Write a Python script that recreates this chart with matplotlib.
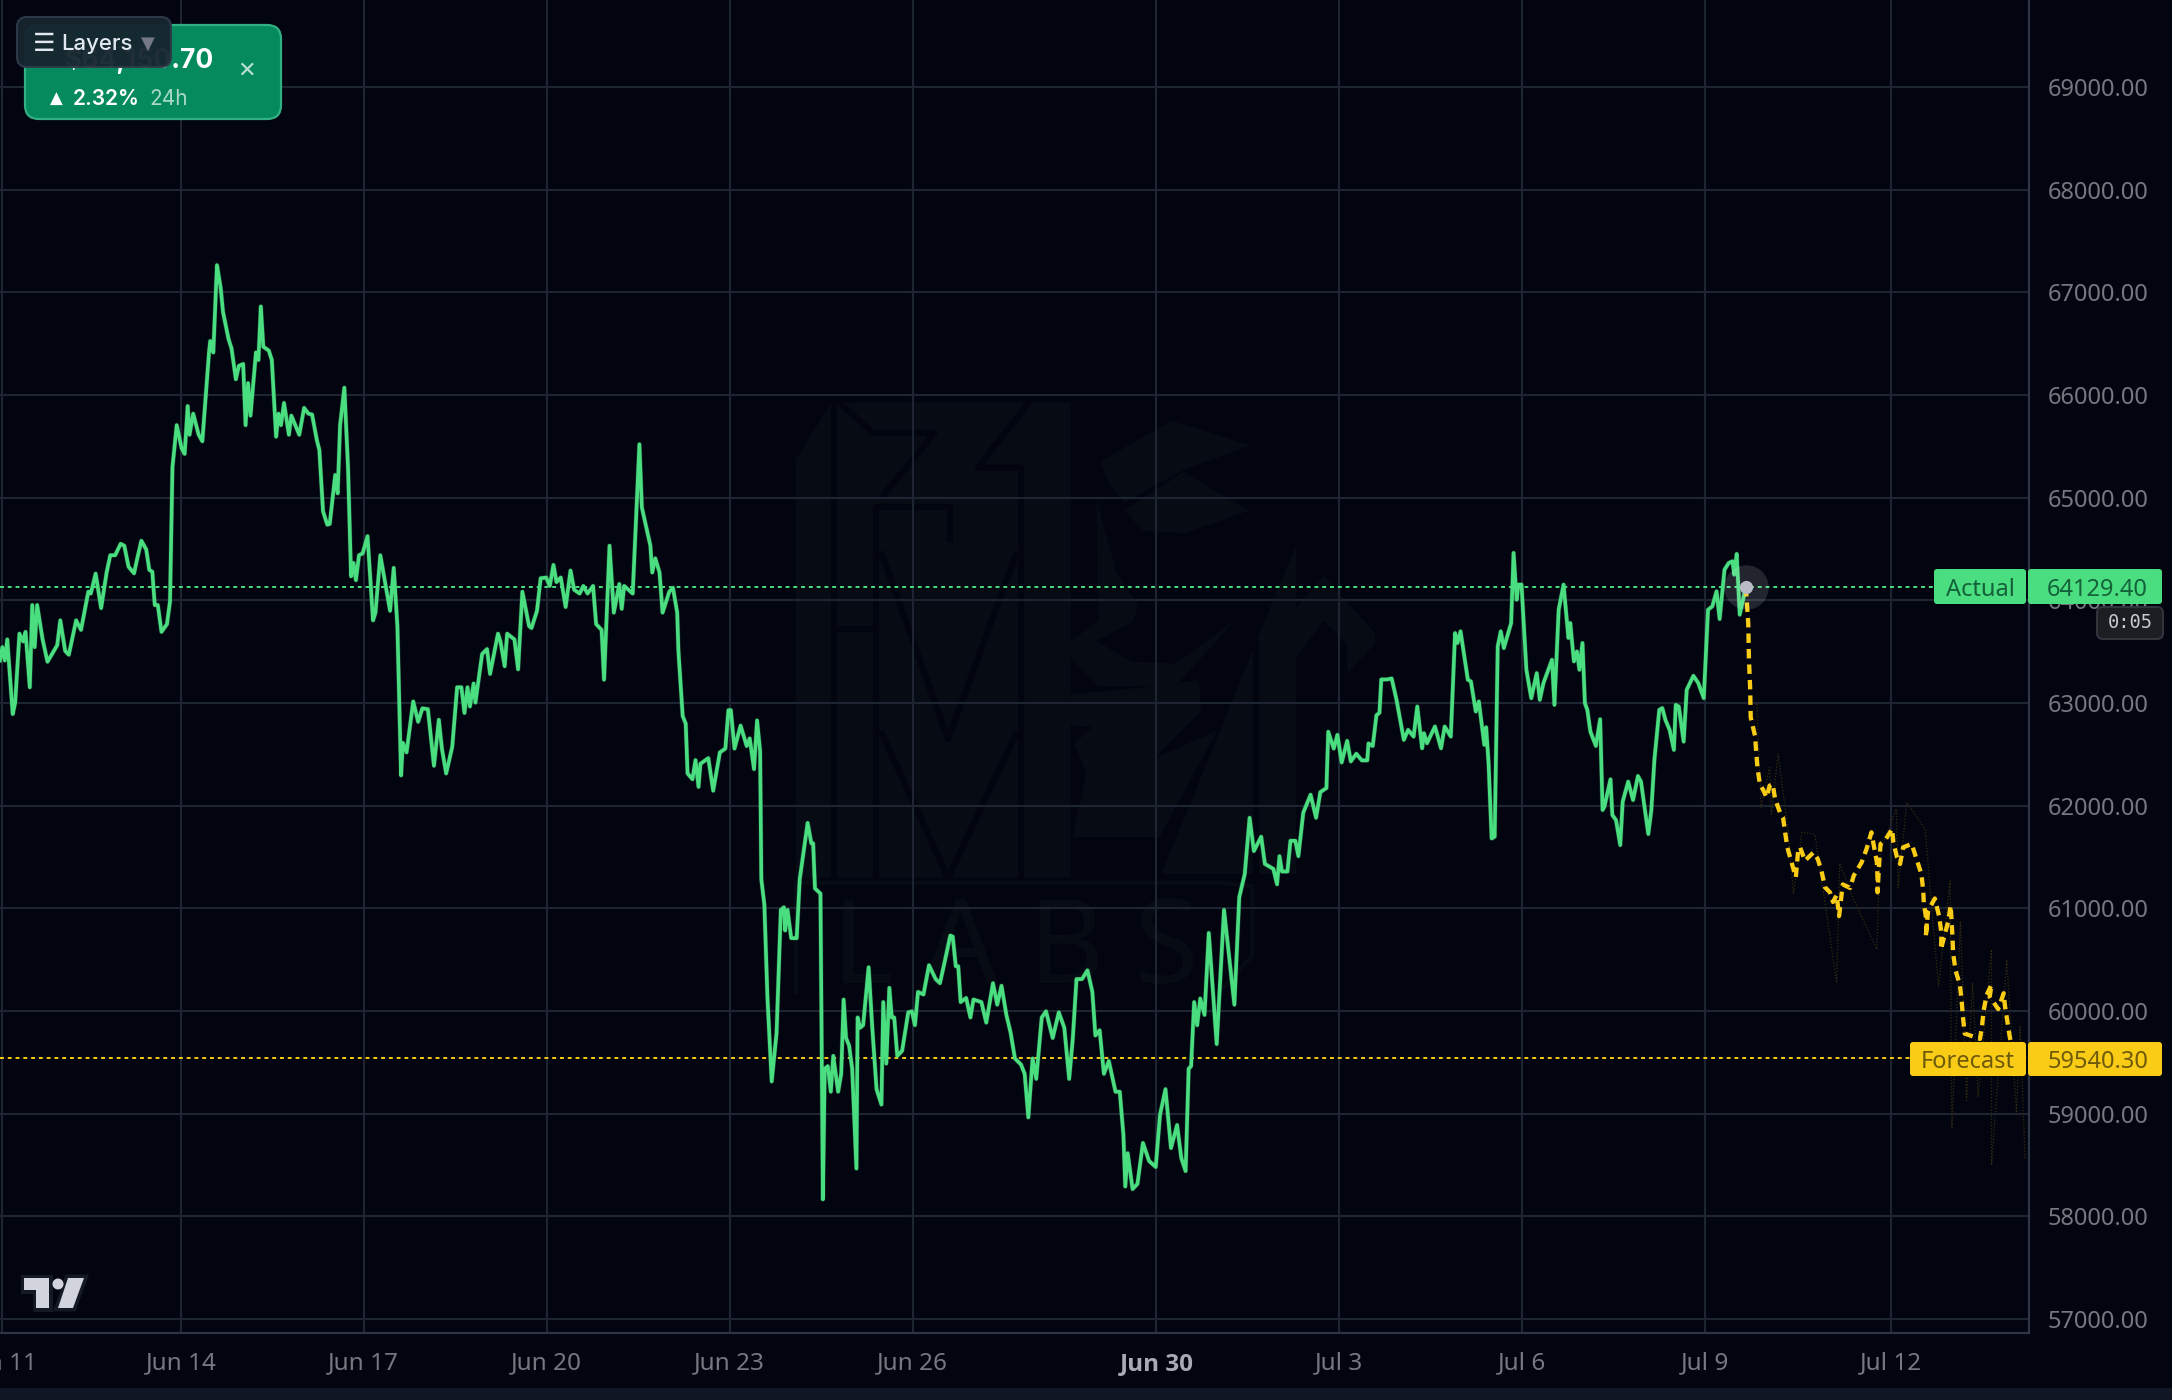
import matplotlib
matplotlib.use("Agg")
import matplotlib.pyplot as plt
import matplotlib.patheffects as pe
from matplotlib.patches import FancyBboxPatch, Polygon, Circle, Rectangle

# ---------- data (days relative to Jun 14, prices) ----------
actual_days = [-2.97,-2.93,-2.89,-2.85,-2.76,-2.72,-2.65,-2.59,-2.55,-2.48,-2.44,-2.40,-2.36,-2.27,-2.19,-2.03,-1.98,-1.90,-1.84,-1.72,-1.64,-1.52,-1.48,-1.40,-1.31,-1.22,-1.16,-1.08,-0.99,-0.93,-0.86,-0.77,-0.72,-0.65,-0.57,-0.52,-0.47,-0.43,-0.38,-0.32,-0.23,-0.18,-0.14,-0.07,0.01,0.06,0.11,0.14,0.20,0.29,0.35,0.46,0.48,0.53,0.59,0.65,0.69,0.78,0.83,0.90,0.95,1.02,1.06,1.10,1.14,1.23,1.27,1.31,1.35,1.44,1.49,1.56,1.60,1.64,1.69,1.77,1.81,1.94,2.02,2.09,2.15,2.23,2.27,2.33,2.40,2.44,2.53,2.57,2.61,2.68,2.74,2.79,2.83,2.87,2.92,2.98,3.06,3.15,3.19,3.27,3.43,3.49,3.55,3.61,3.64,3.70,3.81,3.89,3.96,4.05,4.15,4.23,4.28,4.35,4.45,4.53,4.60,4.65,4.70,4.74,4.80,4.83,4.94,5.02,5.07,5.20,5.24,5.31,5.35,5.47,5.53,5.60,5.71,5.75,5.84,5.90,5.99,6.05,6.11,6.16,6.23,6.31,6.39,6.45,6.54,6.60,6.67,6.76,6.81,6.90,6.94,7.03,7.10,7.19,7.23,7.27,7.41,7.52,7.56,7.70,7.73,7.78,7.85,7.90,8.01,8.07,8.14,8.16,8.23,8.28,8.31,8.39,8.44,8.49,8.52,8.65,8.73,8.84,
8.93,8.98,9.02,9.08,9.18,9.28,9.33,9.40,9.45,9.50,9.52,9.57,9.62,9.69,9.77,9.84,9.89,9.91,9.95,10.01,10.10,10.15,10.28,10.34,10.37,10.40,10.49,10.53,10.56,10.61,10.66,10.70,10.78,10.83,10.87,10.91,10.96,11.01,11.08,11.10,11.14,11.19,11.28,11.34,11.41,11.49,11.52,11.57,11.62,11.66,11.70,11.75,11.83,11.93,11.99,12.04,12.09,12.18,12.27,12.38,12.45,12.53,12.62,12.66,12.71,12.75,12.79,12.88,12.95,13.00,13.13,13.21,13.32,13.39,13.46,13.54,13.61,13.68,13.78,13.84,13.90,13.97,14.03,14.12,14.19,14.30,14.40,14.49,14.57,14.63,14.69,14.78,14.87,14.95,15.00,15.07,15.14,15.22,15.33,15.40,15.46,15.49,15.53,15.61,15.69,15.78,15.88,15.99,16.06,16.15,16.24,16.34,16.41,16.48,16.53,16.57,16.62,16.67,16.72,16.79,16.86,16.99,17.11,17.28,17.36,17.45,17.53,17.60,17.72,17.78,17.92,17.98,18.02,18.06,18.15,18.20,18.28,18.33,18.41,18.53,18.62,18.69,18.79,18.82,18.91,18.97,19.04,19.13,19.19,19.28,19.37,19.46,19.48,19.55,19.61,19.66,19.69,19.78,19.86,19.94,
20.06,20.13,20.22,20.28,20.36,20.39,20.44,20.57,20.67,20.73,20.83,20.90,20.94,20.99,21.11,21.16,21.24,21.29,21.38,21.41,21.45,21.50,21.55,21.60,21.65,21.70,21.82,21.86,21.91,21.94,21.99,22.07,22.15,22.24,22.29,22.35,22.49,22.53,22.60,22.68,22.76,22.79,22.85,22.90,22.94,22.99,23.03,23.07,23.12,23.21,23.28,23.32,23.35,23.45,23.48,23.54,23.61,23.65,23.74,23.82,23.90,23.95,24.07,24.12,24.17,24.25,24.30,24.35,24.42,24.49,24.52,24.57,24.65,24.70,24.81,24.89,24.98,25.05,25.12,25.19,25.24,25.32,25.39,25.45,25.48,25.52,25.57,25.67]
actual_prices = [63414,63544,63414,63619,62892,63004,63675,63600,63693,63153,63954,63544,63954,63619,63402,63563,63805,63507,63470,63805,63712,64084,64066,64260,63924,64271,64439,64439,64550,64532,64327,64263,64401,64580,64495,64297,64278,63954,63954,63693,63768,63991,65296,65706,65482,65426,65892,65613,65818,65613,65549,66414,66526,66414,67264,67048,66806,66545,66451,66153,66284,66302,65706,66116,65799,66414,66340,66862,66470,66433,66340,65594,65818,65706,65922,65613,65799,65613,65874,65818,65810,65557,65464,64867,64737,64744,65221,65042,65706,66071,65296,64234,64364,64196,64439,64457,64625,63805,63880,64439,63898,64316,63749,62295,62612,62519,63015,62817,62948,62940,62389,62836,62556,62314,62575,63153,63153,62903,63153,62966,63190,63004,63477,63525,63283,63675,63600,63358,63675,63619,63328,64084,63749,63730,63898,64215,64222,64140,64345,64178,64222,63935,64290,64103,64066,64140,64066,64140,63768,63712,63227,64532,63880,64159,63917,64140,64066,65520,64905,64532,64271,64409,64271,63880,64084,64122,63880,63507,62873,62798,62314,62258,62444,62183,62407,62463,62146,62519,
62556,62930,62930,62556,62780,62581,62655,62356,62830,62531,61284,61034,60137,59314,59787,60985,61010,60785,60985,60710,60710,61284,61832,61633,61633,61194,61144,58166,59438,59463,59214,59563,59214,59388,60112,59737,59663,59438,58466,59937,59837,59862,60426,59837,59239,59089,60087,59488,60226,59937,59937,59563,59613,59987,59997,59862,60186,60161,60446,60311,60271,60486,60735,60725,60436,60436,60087,60127,59937,60112,60087,59887,60271,60062,60246,59962,59787,59538,59478,59388,58964,59538,59339,59937,59997,59737,59987,59837,59339,59737,60311,60311,60396,60186,59762,59812,59388,59513,59214,59214,58790,58291,58615,58266,58316,58715,58540,58481,58989,59239,58665,58890,58565,58441,59438,59463,60087,59862,60122,59962,60760,59678,60985,60062,61109,61334,61882,61558,61698,61433,61384,61234,61508,61359,61359,61658,61658,61508,61932,62107,61882,62132,62172,62720,62556,62690,62421,62631,62431,62506,62441,62441,62606,62581,62880,62905,63229,63229,63239,63030,
62641,62738,62673,62966,62559,62706,62608,62771,62559,62771,62673,63681,63584,63698,63226,63210,62917,63015,62592,62764,62413,61681,61698,63551,63698,63535,63779,64462,64006,64153,64153,63324,63047,63291,63031,63194,63421,62982,63909,64153,63633,63779,63405,63502,63324,63584,62998,62933,62722,62582,62842,61958,61990,62257,61909,61860,61616,62039,62234,62055,62289,62234,61724,61958,62446,62933,62950,62836,62738,62543,62982,62966,62624,63128,63265,63194,63047,63909,63941,64088,63818,64299,64364,64380,64250,64452,63860,64129.4]

forecast_days = [25.67,25.71,25.72,25.74,25.75,25.82,25.86,25.90,25.96,26.01,26.06,26.11,26.15,26.23,26.28,26.31,26.35,26.42,26.49,26.53,26.56,26.64,26.78,26.85,26.91,26.97,27.05,27.10,27.16,27.20,27.26,27.38,27.44,27.57,27.65,27.73,27.77,27.82,27.83,27.83,27.86,27.88,27.95,28.07,28.09,28.15,28.20,28.25,28.39,28.47,28.55,28.58,28.59,28.64,28.62,28.66,28.77,28.84,28.88,28.87,28.99,29.03,29.06,29.07,29.11,29.18,29.21,29.23,29.26,29.35,29.51,29.54,29.57,29.62,29.70,29.67,29.81,29.90,29.92,29.96,30.00,30.08]
forecast_prices = [64129.4,63770,63445,63153,62860,62682,62373,62211,62146,62081,62195,62211,62065,61935,61886,61757,61594,61448,61302,61578,61594,61464,61545,61480,61367,61204,61156,61062,61130,60925,61233,61199,61318,61448,61578,61740,61610,61448,61286,61156,61464,61627,61659,61773,61643,61497,61432,61594,61627,61480,61334,61172,61045,60857,60720,60977,61096,60925,60754,60600,60874,61028,60720,60566,60395,60258,60104,59951,59780,59762,59728,59831,60002,60156,60258,60139,60019,60173,60053,59899,59745,59540.3]

spread_days = [25.85,25.92,26.06,26.09,26.20,26.37,26.45,26.59,26.80,26.94,27.16,27.21,27.43,27.82,27.87,28.14,28.17,28.31,28.61,28.83,29.02,29.05,29.19,29.29,29.39,29.48,29.70,29.70,29.95,30.11,30.17,30.25]
spread_prices = [62990,61984,62373,61919,62503,61724,61140,61740,61724,61172,60275,61438,61096,60600,61558,61968,61199,62032,61773,60241,61267,58856,60874,59130,60275,59164,60600,58497,60498,59010,59848,58565]

price_ticks = [57000,58000,59000,60000,61000,62000,63000,64000,65000,66000,67000,68000,69000]
date_tick_days = [-2.93,0,3,6,9,12,16,19,22,25,28.05]
date_tick_labels = ["Jun 11","Jun 14","Jun 17","Jun 20","Jun 23","Jun 26","Jun 30","Jul 3","Jul 6","Jul 9","Jul 12"]
actual_last = 64129.40
forecast_last = 59540.30

# ---------- style ----------
BG = "#020510"; GRID = "#1d2432"; AXIS = "#2f3747"; TXT = "#75787f"
GREEN = "#4ADE80"; YELLOW = "#FACC15"; WM = "#070b14"
W, H = 2172, 1400
AX_R, AX_B = 2029, 1333
plt.rcParams["font.family"] = ["Noto Sans", "DejaVu Sans"]

fig = plt.figure(figsize=(W/100, H/100), dpi=100, facecolor=BG)

def px_axes(z):
    a = fig.add_axes([0, 0, 1, 1], zorder=z)
    a.set_xlim(0, W); a.set_ylim(H, 0); a.axis("off")
    return a

# ---------- watermark layer (decoration) ----------
bgax = px_axes(0)
def wm(pts):
    return [(780 + x/2.529, 380 + y/2.45) for x, y in pts]
for pts in [
    [(40,195),(130,55),(735,55),(735,1220),(40,1220)],
    [(810,200),(990,100),(1190,160),(1020,220),(870,300),(830,250)],
    [(870,320),(1020,225),(1185,320),(1100,350),(1020,375),(920,370)],
    [(800,290),(850,470),(905,550),(895,590),(800,640),(890,690),(1000,695),(1150,590),(1000,750),(805,750),(735,680),(735,640),(805,590)],
    [(735,770),(900,755),(1060,735),(1065,810),(950,925),(1105,860),(960,1120),(740,1120),(775,965),(745,890),(790,850),(735,845)],
    [(965,1210),(1205,640),(1305,405),(1305,560),(1375,480),(1505,620),(1505,645),(1435,720),(1435,650),(1375,590),(1305,680),(1305,1210)],
]:
    bgax.add_patch(Polygon(wm(pts), closed=True, fc=WM, ec="none"))
for pts in [
    [(137,55),(137,1220)], [(130,610),(243,610)],
    [(243,1220),(243,310),(430,310),(430,400)],
    [(150,55),(235,130),(390,130),(255,290)],
    [(630,55),(500,215),(610,215),(610,1220)],
    [(255,420),(425,880),(600,420)], [(255,860),(425,1220),(600,860)],
    [(1205,640),(1205,1210)],
]:
    xs, ys = zip(*wm(pts))
    bgax.plot(xs, ys, color=BG, lw=4.5, solid_capstyle="butt")
fx, fy = zip(*wm([(40,1500),(40,1232),(1115,1232),(1195,1240),(1195,1410),(1110,1500)]))
bgax.plot(fx, fy, color=WM, lw=3)
bgax.text(1015, 953, "L A B S", color=WM, fontsize=84, ha="center", va="center", fontweight="medium")

# ---------- main chart ----------
ax = fig.add_axes([0, (H-AX_B)/H, AX_R/W, AX_B/H], zorder=1)
ax.patch.set_alpha(0)
ax.set_xlim(-2.969, 30.315)
ax.set_ylim(56864, 69847)
ax.set_yticks(price_ticks, [f"{v:.2f}" for v in price_ticks])
ax.set_xticks(date_tick_days, date_tick_labels)
ax.yaxis.tick_right()
ax.grid(True, color=GRID, lw=1.5, zorder=0)
ax.set_axisbelow(True)
for s in ("top", "left"):
    ax.spines[s].set_visible(False)
for s in ("right", "bottom"):
    ax.spines[s].set_color(AXIS); ax.spines[s].set_linewidth(1.6)
ax.tick_params(axis="y", length=0, pad=13.5, labelsize=17, labelcolor=TXT)
ax.tick_params(axis="x", length=0, pad=13.5, labelsize=17.5, labelcolor=TXT)
for lab in ax.get_xticklabels():
    if lab.get_text() == "Jun 30":
        lab.set_family(["Open Sans"]); lab.set_fontweight("bold"); lab.set_color("#a8abb3")

ax.plot(spread_days, spread_prices, color="#332c10", lw=0.9, ls=(0, (1, 1.5)), zorder=2)
ax.axhline(actual_last, color=GREEN, lw=1.4, ls=(0, (2, 2)), zorder=2)
ax.axhline(forecast_last, color=YELLOW, lw=1.4, ls=(0, (2, 2)), zorder=2)
ax.plot(actual_days, actual_prices, color=GREEN, lw=3.4, alpha=0.25, solid_joinstyle="round", zorder=3)
ax.plot(actual_days, actual_prices, color=GREEN, lw=2.6, solid_joinstyle="round", zorder=3)
ax.plot(forecast_days, forecast_prices, color=YELLOW, lw=3.1, ls=(0, (2.2, 1.4)),
        dash_joinstyle="round", zorder=4)
ax.plot([actual_days[-1]], [actual_last], "o", ms=32, color="#ffffff", alpha=0.13, mew=0, zorder=5)
ax.plot([actual_days[-1]], [actual_last], "o", ms=9.5, color="#b9bcc6", mew=0, zorder=6)

# ---------- overlay ----------
ov = px_axes(2)
def rbox(x0, y0, x1, y1, r, fc, ec="none", lw=0, alpha=None, z=3):
    p = FancyBboxPatch((x0+r, y0+r), x1-x0-2*r, y1-y0-2*r,
                       boxstyle=f"round,pad={r},rounding_size={r}",
                       fc=fc, ec=ec, lw=lw, alpha=alpha, zorder=z)
    ov.add_patch(p)

INTER = ["Inter", "DejaVu Sans"]
# price card
rbox(25, 25, 281, 119, 14, "#058a5e", ec="#30b083", lw=1.6, z=3)
ov.text(214, 59, f"${64150.70:,.2f}", color="white", fontsize=19, fontweight="bold",
        family=INTER, ha="right", va="center", zorder=4)
ov.text(56, 99, "▲", color="white", fontsize=12, family=["DejaVu Sans"], ha="center", va="center", zorder=4)
ov.text(73, 99, "2.32%", color="white", fontsize=15, fontweight="semibold", family=INTER, ha="left", va="center", zorder=4)
ov.text(149, 99, "24h", color="#a9d9c6", fontsize=15, family=INTER, ha="left", va="center", zorder=4)
ov.text(246, 71, "✕", color="#b9e0d2", fontsize=16, family=["DejaVu Sans"], ha="center", va="center", zorder=4)
# layers button
rbox(17, 17, 171, 67, 10, "#16252f", ec="#2f3a4b", lw=1.5, alpha=0.96, z=5)
ov.text(33, 44, "☰", color="#e2e8f0", fontsize=18, family=["DejaVu Sans"], ha="left", va="center", zorder=6)
ov.text(61, 44, "Layers", color="#e2e8f0", fontsize=16, fontweight="medium", family=INTER, ha="left", va="center", zorder=6)
ov.text(148, 44, "▼", color="#737985", fontsize=13, family=["DejaVu Sans"], ha="center", va="center", zorder=6)

# price labels
rbox(1934, 569, 2026, 604, 3, GREEN, z=3)
rbox(2028, 569, 2162, 604, 3, GREEN, z=3)
ov.text(1980, 590, "Actual", color="#14613a", fontsize=17, ha="center", va="center", zorder=4)
ov.text(2148, 590, f"{actual_last:.2f}", color="#14613a", fontsize=17, ha="right", va="center", zorder=4)
rbox(2097, 607, 2163, 639, 6, "#1c1e24", ec="#33363f", lw=1.4, z=3)
ov.text(2130, 622, "0:05", color="#c8cad0", fontsize=13.5, family=["DejaVu Sans Mono"], ha="center", va="center", zorder=4)
rbox(1910, 1042, 2026, 1076, 3, YELLOW, z=3)
rbox(2028, 1042, 2162, 1076, 3, YELLOW, z=3)
ov.text(1968, 1062, "Forecast", color="#6e5a0b", fontsize=17, ha="center", va="center", zorder=4)
ov.text(2148, 1062, f"{forecast_last:.2f}", color="#6e5a0b", fontsize=17, ha="right", va="center", zorder=4)

# TradingView mark
halo = [pe.withStroke(linewidth=5, foreground="#141923")]
LOGO = "#d1d4dc"
ov.add_patch(Polygon([(24,1278),(49,1278),(49,1308),(36,1308),(36,1290),(24,1290)], fc=LOGO, ec="none", path_effects=halo, zorder=3))
ov.add_patch(Polygon([(68,1278),(84,1278),(73,1308),(58,1308)], fc=LOGO, ec="none", path_effects=halo, zorder=3))
ov.add_patch(Circle((58,1284), 5.5, fc=LOGO, ec="none", zorder=3))

# bottom strip
ov.add_patch(Rectangle((0, 1388), W, 12, fc="#101623", ec="none", zorder=3))

fig.savefig("out.png", dpi=100, facecolor=BG)
